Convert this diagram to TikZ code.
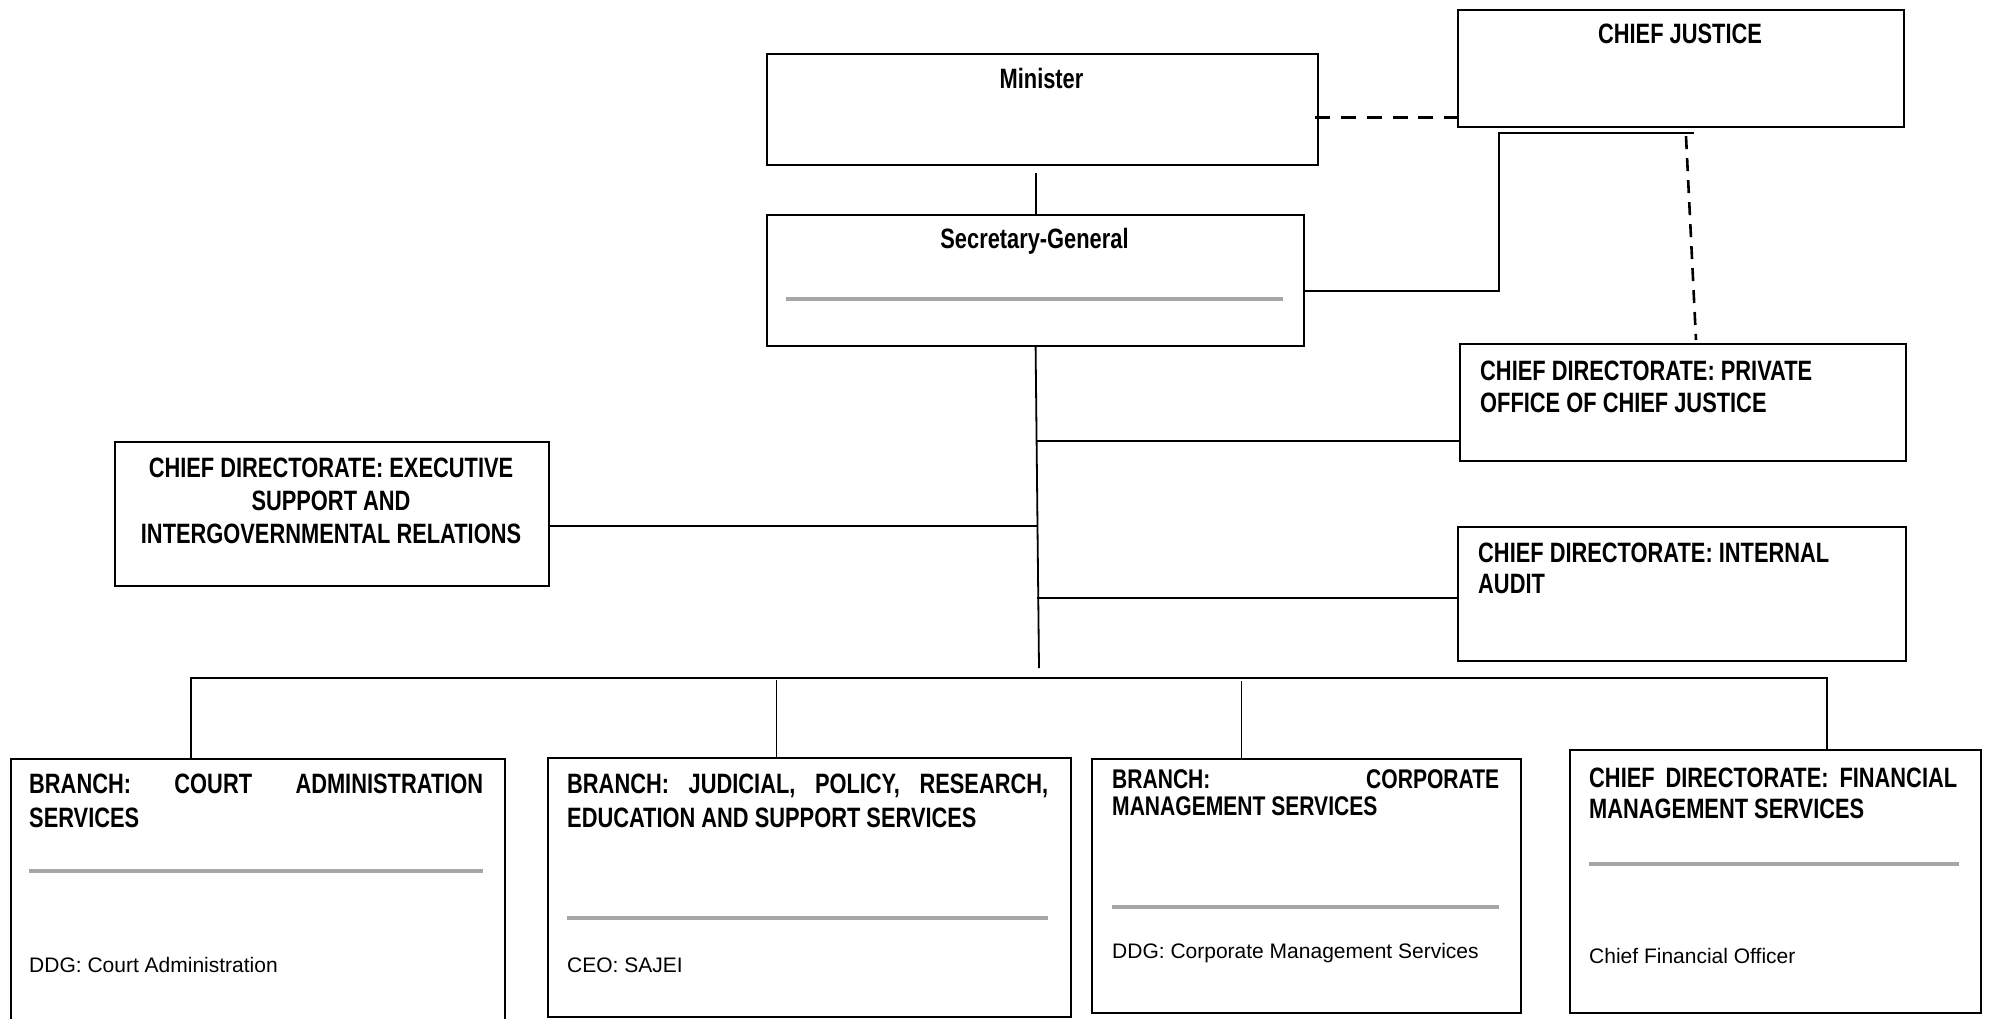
\documentclass[tikz,border=0pt]{standalone}
\usepackage{fontspec}
\setmainfont{Liberation Sans}
\newfontfamily\hdfont{Liberation Sans}[FakeStretch=0.78]
\definecolor{ruleg}{HTML}{A6A6A6}
\tikzset{
 box/.style={draw, line width=2.2pt, inner sep=0pt, anchor=north west, fill=white},
 hd/.style={font=\hdfont\bfseries\fontsize{28}{33}\selectfont, inner sep=0pt, anchor=base},
 hdl/.style={hd, anchor=base west},
 hds/.style={hdl, font=\hdfont\bfseries\fontsize{27}{30}\selectfont},
 rg/.style={font=\fontsize{21}{25}\selectfont, inner sep=0pt, anchor=base west},
 conn/.style={line width=1.8pt},
 thinline/.style={line width=1.2pt},
 busline/.style={line width=2.5pt},
 dashc/.style={line width=3pt, dash pattern=on 15pt off 10.8pt},
 dashv/.style={line width=2.6pt, dash pattern=on 13pt off 9pt},
 grayrule/.style={line width=4.3pt, draw=ruleg},
}
\begin{document}
\begin{tikzpicture}[x=1pt,y=-1pt]
\path[use as bounding box, fill=white] (0,0) rectangle (1989,1018);
% boxes
\node[box, minimum width=551pt, minimum height=111pt] (min) at (766,53) {};
\node[box, minimum width=446pt, minimum height=117pt] (cj) at (1457,9) {};
\node[box, minimum width=537pt, minimum height=131pt] (sg) at (766,214) {};
\node[box, minimum width=446pt, minimum height=117pt] (pocj) at (1459,343) {};
\node[box, minimum width=448pt, minimum height=134pt] (ia) at (1457,526) {};
\node[box, minimum width=434pt, minimum height=144pt] (exec) at (114,441) {};
\node[box, minimum width=494pt, minimum height=262pt] (b1) at (10,758) {};
\node[box, minimum width=523pt, minimum height=259pt] (b2) at (547,757) {};
\node[box, minimum width=429pt, minimum height=254pt] (b3) at (1091,758) {};
\node[box, minimum width=411pt, minimum height=263pt] (cfo) at (1569,749) {};
% texts
\node[hd] (tmin) at (1041.5,88) {Minister};
\node[hd] (tcj) at (1680,43) {CHIEF JUSTICE};
\node[hd] (tsg) at (1034.5,248) {Secretary-General};
\node[hd] (te1) at (331,477) {CHIEF DIRECTORATE: EXECUTIVE};
\node[hd] (te2) at (331,510) {SUPPORT AND};
\node[hd] (te3) at (331,543) {INTERGOVERNMENTAL RELATIONS};
\node[hdl] (tp1) at (1480,380) {CHIEF DIRECTORATE: PRIVATE};
\node[hdl] (tp2) at (1480,412) {OFFICE OF CHIEF JUSTICE};
\node[hdl] (ti1) at (1478,562) {CHIEF DIRECTORATE: INTERNAL};
\node[hdl] (ti2) at (1478,593) {AUDIT};
\node[hdl] (tb1a) at (29,793) {\hbox to 454pt{BRANCH:\hfill COURT\hfill ADMINISTRATION}};
\node[hdl] (tb1b) at (29,827) {SERVICES};
\node[rg] (tb1c) at (29,972) {DDG: Court Administration};
\node[hdl] (tb2a) at (567,793) {\hbox to 481pt{BRANCH:\hfill JUDICIAL,\hfill POLICY,\hfill RESEARCH,}};
\node[hdl] (tb2b) at (567,827) {EDUCATION AND SUPPORT SERVICES};
\node[rg] (tb2c) at (567,972) {CEO: SAJEI};
\node[hds] (tb3a) at (1112,788) {\hbox to 387pt{BRANCH:\hfill CORPORATE}};
\node[hds] (tb3b) at (1112,815) {MANAGEMENT SERVICES};
\node[rg] (tb3c) at (1112,958) {DDG: Corporate Management Services};
\node[hdl] (tc1) at (1589,787) {\hbox to 368pt{CHIEF\hfill DIRECTORATE:\hfill FINANCIAL}};
\node[hdl] (tc2) at (1589,818) {MANAGEMENT SERVICES};
\node[rg] (tc3) at (1589,963) {Chief Financial Officer};
% gray rules
\draw[grayrule] (786,299) -- (1283,299);
\draw[grayrule] (29,871) -- (483,871);
\draw[grayrule] (567,918) -- (1048,918);
\draw[grayrule] (1112,907) -- (1499,907);
\draw[grayrule] (1589,864) -- (1959,864);
% connectors
\draw[conn] ([yshift=-7pt]min.south -| sg.north) -- (sg.north);
\draw[dashc] ([yshift=11pt,xshift=-4pt]cj.south west -| min.east) -- ([yshift=11pt]cj.south west);
\draw[conn] ([yshift=-10pt]sg.east) -| ([xshift=42pt,yshift=-5pt]cj.south west) -- ([xshift=237pt,yshift=-5pt]cj.south west);
\draw[dashv] ([xshift=229pt,yshift=-8pt]cj.south west) -- ([xshift=237pt,yshift=3pt]pocj.north west);
\coordinate (spb) at (1039,668);
\draw[conn] (sg.south) -- (spb);
\draw[conn] ([yshift=-38pt]pocj.west) -- ++(-422,0);
\draw[conn] ([yshift=-4pt]ia.west) -- ++(-420,0);
\draw[conn] ([yshift=-12pt]exec.east) -- ++(488,0);
\coordinate (busL) at (191,678);
\coordinate (busR) at (1827,678);
\draw[busline] (b1.north -| busL) |- (busR) -- (cfo.north -| busR);
\draw[thinline] ([xshift=-33.5pt]b2.north) -- ++(0,-77);
\draw[thinline] ([xshift=-65.5pt]b3.north) -- ++(0,-77);
\end{tikzpicture}
\end{document}
